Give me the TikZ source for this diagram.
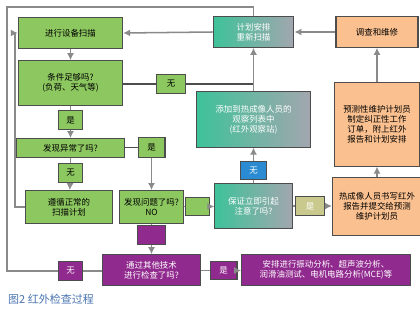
\documentclass[tikz,border=0pt]{standalone}
\usepackage{fontspec}
\setmainfont{Noto Sans CJK SC}
\usepackage{tikz}
\usetikzlibrary{shapes,arrows,arrows.meta,positioning,calc}

\definecolor{boxgreen}{HTML}{8DC760}
\definecolor{boxpurple}{HTML}{912A8E}
\definecolor{boxorange}{HTML}{FAC08F}
\definecolor{boxteal}{HTML}{3EC29A}
\definecolor{boxblue}{HTML}{2A8BD2}
\definecolor{boxgrey}{HTML}{A2A6AE}
\definecolor{boxkhaki}{HTML}{C9C98E}
\definecolor{edgegrey}{HTML}{4D4D4D}
\definecolor{linegrey}{HTML}{8A8A8A}
\definecolor{capblue}{HTML}{4A74B0}

\begin{document}
\begin{tikzpicture}[x=0.03cm, y=-0.03cm,
    box/.style={draw=edgegrey, line width=0.9pt, align=center, inner sep=0pt,
        font=\fontsize{7.2}{8.6}\selectfont},
    green/.style={box, fill=boxgreen},
    purple/.style={box, fill=boxpurple, text=white},
    orange/.style={box, fill=boxorange},
    shade/.style={box, left color=boxteal, middle color=boxblue, right color=boxgrey, text=white},
    arr/.style={-{Latex[length=6pt,width=6pt]}, line width=1.3pt, draw=linegrey},
    ln/.style={line width=1.3pt, draw=linegrey},
    dk/.style={line width=1.1pt, draw=edgegrey}]
    \useasboundingbox (0,0) rectangle (420,311);

    % Left column
    \node[green, minimum width=89, minimum height=26] (scan) at (70.5,33) {进行设备扫描};
    \node[green, minimum width=89, minimum height=38] (cond) at (70.5,83) {条件足够吗?\\(负荷、天气等)};
    \node[green, minimum width=24, minimum height=16] (no1) at (171,84) {无};
    \node[green, minimum width=20, minimum height=16] (yes1) at (70.5,120) {是};
    \node[green, minimum width=92, minimum height=16] (abn) at (70.5,148) {发现异常了吗?};
    \node[green, minimum width=23, minimum height=17] (yes2) at (151.5,147.5) {是};
    \node[green, minimum width=20, minimum height=16] (no2) at (70.5,173) {无};
    \node[green, minimum width=74, minimum height=28] (normal) at (69,207) {遵循正常的\\扫描计划};

    % Middle column
    \node[green, minimum width=54, minimum height=28] (prob) at (151.5,207) {发现问题了吗?\\NO};
    \node[green, minimum width=21, minimum height=15] (g3) at (197.5,206.5) {};
    \node[purple, minimum width=24, minimum height=16] (p1) at (151.5,235) {};
    \node[purple, minimum width=84, minimum height=26] (other) at (151.5,270) {通过其他技术\\进行检查了吗?};
    \node[purple, minimum width=20, minimum height=16] (no3) at (70.5,271) {无};
    \node[purple, minimum width=23, minimum height=15] (yes3) at (223.5,270.5) {是};
    \node[purple, minimum width=144, minimum height=26] (arrange) at (326,270) {安排进行振动分析、超声波分析、\\润滑油测试、电机电路分析(MCE)等};

    % Shaded column
    \node[shade, minimum width=69, minimum height=26] (resched) at (253.5,32) {计划安排\\重新扫描};
    \node[shade, minimum width=97, minimum height=47] (add) at (253.5,119.5) {添加到热成像人员的\\观察列表中\\(红外观察站)};
    \node[box, fill=boxblue, text=white, minimum width=22, minimum height=15] (no4) at (253.5,170.5) {无};
    \node[shade, minimum width=66, minimum height=38] (attn) at (253.5,206) {保证立即引起\\注意了吗?};
    \node[box, fill=boxkhaki, text=white, minimum width=24, minimum height=16] (yes4) at (310,206) {是};

    % Right column
    \node[orange, minimum width=70, minimum height=26] (repair) at (377,32) {调查和维修};
    \node[orange, minimum width=73, minimum height=71] (plan) at (377,124.5) {预测性维护计划员\\制定纠正性工作\\订单，附上红外\\报告和计划安排};
    \node[orange, minimum width=76, minimum height=49] (report) at (377,206.5) {热成像人员书写红外\\报告并提交给预测\\维护计划员};

    % Connectors
    \coordinate (j1) at (add.north |- no1);
    \coordinate (lp) at (15,207);
    \coordinate (op) at (7,7);
    \draw[arr] (scan) -- (cond);
    \draw[dk] (cond.east |- no1) -- (no1.west);
    \draw[dk] (no1.east) -- (j1);
    \draw[arr] (add) -- (resched);
    \draw[ln] (cond) -- (yes1);
    \draw[arr] (yes1) -- (abn);
    \draw[dk] (abn.east |- yes2) -- (yes2.west);
    \draw[arr] (yes2) -- (prob);
    \draw[ln] (abn) -- (no2);
    \draw[arr] (no2) -- (normal);
    \draw[arr] (normal.west) -- (lp) |- (scan.west);
    \draw[arr] (resched.west) -- (scan.east);
    \draw[arr] (repair) -- (resched);
    \draw[arr] (plan) -- (repair);
    \draw[arr] (report) -- (plan);
    \draw[ln] (prob.east |- g3) -- (g3.west);
    \draw[arr] (g3.east) -- (attn.west |- g3);
    \draw[ln] (attn) -- (no4);
    \draw[arr] (no4) -- (add);
    \draw[ln] (attn.east |- yes4) -- (yes4.west);
    \draw[arr] (yes4.east) -- (report.west |- yes4);
    \draw[ln] (prob) -- (p1);
    \draw[arr] (p1) -- (other);
    \draw[ln] (other.east |- yes3) -- (yes3.west);
    \draw[arr] (yes3.east) -- (arrange.west |- yes3);
    \draw[ln] (other.west |- no3) -- (no3.east);
    \draw[ln] (no3.west) -- (op |- no3) -- (op) -| (resched.north);

    % Caption
    \node[anchor=west, text=capblue, font=\fontsize{9.4}{11}\selectfont, inner sep=0pt] (cap) at (8,299) {图2 红外检查过程};
\end{tikzpicture}
\end{document}
